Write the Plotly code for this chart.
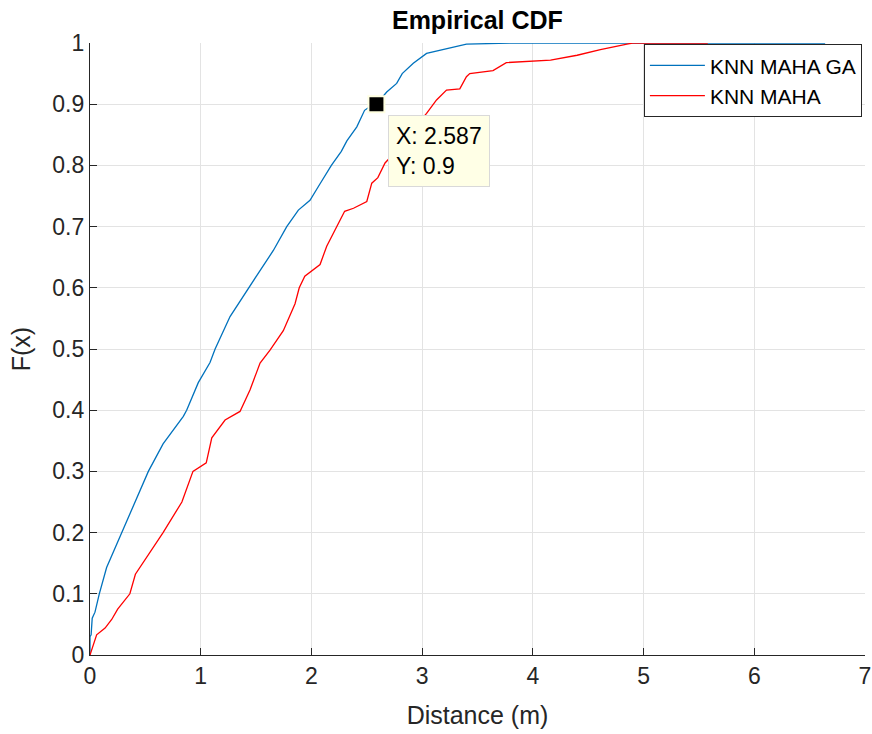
import plotly.graph_objects as go

# KNN MAHA GA (blue) empirical CDF points
ga_x = [0, 0, 0.01, 0.02, 0.045, 0.084, 0.15, 0.286, 0.406, 0.527, 0.66, 0.843, 0.873,
        0.978, 1.084, 1.13, 1.265, 1.43, 1.506, 1.656, 1.777, 1.882, 1.987, 2.078, 2.18,
        2.27, 2.32, 2.41, 2.48, 2.52, 2.587, 2.68, 2.77, 2.82, 2.92, 3.04, 3.22, 3.40,
        3.79, 6.64]
ga_y = [0, 0.03, 0.033, 0.06, 0.07, 0.1, 0.143, 0.2, 0.25, 0.3, 0.345, 0.39, 0.4,
        0.445, 0.478, 0.5, 0.553, 0.6, 0.62, 0.661, 0.7, 0.727, 0.743, 0.77, 0.8,
        0.823, 0.84, 0.863, 0.89, 0.895, 0.9, 0.92, 0.934, 0.95, 0.967, 0.983, 0.991, 0.998,
        1.0, 1.0]

# KNN MAHA (red) empirical CDF points
maha_x = [0, 0.03, 0.06, 0.136, 0.196, 0.25, 0.36, 0.41, 0.51, 0.66, 0.83, 0.93, 1.05,
          1.1, 1.22, 1.355, 1.445, 1.536, 1.626, 1.746, 1.852, 1.89, 1.94, 2.078, 2.138,
          2.228, 2.30, 2.38, 2.50, 2.545, 2.60, 2.665, 2.8, 2.9, 3.04, 3.13, 3.22, 3.34,
          3.40, 3.43, 3.64, 3.76, 4.16, 4.40, 4.61, 4.85, 4.9, 5.58]
maha_y = [0, 0.015, 0.033, 0.044, 0.058, 0.075, 0.1, 0.132, 0.16, 0.2, 0.25, 0.3, 0.314,
          0.355, 0.384, 0.398, 0.433, 0.477, 0.498, 0.53, 0.574, 0.6, 0.619, 0.638, 0.668,
          0.7, 0.725, 0.73, 0.741, 0.771, 0.78, 0.804, 0.83, 0.855, 0.885, 0.907, 0.923, 0.925,
          0.945, 0.95, 0.955, 0.968, 0.972, 0.98, 0.989, 0.998, 1.0, 1.0]

series_names = ["KNN MAHA GA", "KNN MAHA"]
datatip_x = [2.587]
datatip_y = [0.9]

x_ticks = [0, 1, 2, 3, 4, 5, 6, 7]
y_ticks = [0, 0.1, 0.2, 0.3, 0.4, 0.5, 0.6, 0.7, 0.8, 0.9, 1]

FONT = "Arial, Liberation Sans, sans-serif"
AX = "#262626"

fig = go.Figure()
fig.add_trace(go.Scatter(x=ga_x, y=ga_y, mode="lines", name=series_names[0],
                         line=dict(color="#0072BD", width=1.3)))
fig.add_trace(go.Scatter(x=maha_x, y=maha_y, mode="lines", name=series_names[1],
                         line=dict(color="#FF0000", width=1.3)))
fig.add_trace(go.Scatter(x=datatip_x, y=datatip_y, mode="markers", showlegend=False,
                         marker=dict(symbol="square", size=16, color="black",
                                     line=dict(color="#FFFFE1", width=2)),
                         cliponaxis=False, hoverinfo="skip"))

fig.add_annotation(x=datatip_x[0] + 0.105, y=datatip_y[0] - 0.0175, xref="x", yref="y",
                   xanchor="left", yanchor="top", showarrow=False, align="left",
                   text=f"X: {datatip_x[0]}<br>Y: {datatip_y[0]}",
                   font=dict(family=FONT, size=23, color="black"),
                   bgcolor="#FFFFE6", bordercolor="#D9D9D9", borderwidth=1, borderpad=7)

fig.update_layout(
    width=872, height=734,
    margin=dict(l=90, r=7, t=43, b=79, autoexpand=False),
    paper_bgcolor="white", plot_bgcolor="white",
    font=dict(family=FONT, size=22, color=AX),
    title=dict(text="<b>Empirical CDF</b>", x=0.5475, xanchor="center", y=0.973, yanchor="middle",
               font=dict(family=FONT, size=25, color="black")),
    legend=dict(x=0.996, y=0.998, xanchor="right", yanchor="top",
                bgcolor="white", bordercolor="#262626", borderwidth=1,
                font=dict(family=FONT, size=21, color="black"),
                tracegroupgap=0, itemwidth=55),
    showlegend=True,
)
fig.update_xaxes(range=[0, 7], tickvals=x_ticks, showgrid=True, gridcolor="#E3E3E3",
                 showline=True, linecolor=AX, linewidth=1.2, ticks="inside", ticklen=7,
                 tickcolor=AX, tickwidth=1.3, zeroline=False, automargin=False,
                 tickfont=dict(family=FONT, size=23, color=AX),
                 title=dict(text="Distance (m)", font=dict(family=FONT, size=25, color=AX), standoff=18))
fig.update_yaxes(range=[0, 1], tickvals=y_ticks, showgrid=True, gridcolor="#E3E3E3",
                 showline=True, linecolor=AX, linewidth=1.2, ticks="inside", ticklen=7,
                 tickcolor=AX, tickwidth=1.3, zeroline=False, automargin=False,
                 tickfont=dict(family=FONT, size=23, color=AX),
                 title=dict(text="F(x)", font=dict(family=FONT, size=25, color=AX), standoff=14))

fig.write_html("out.html")
